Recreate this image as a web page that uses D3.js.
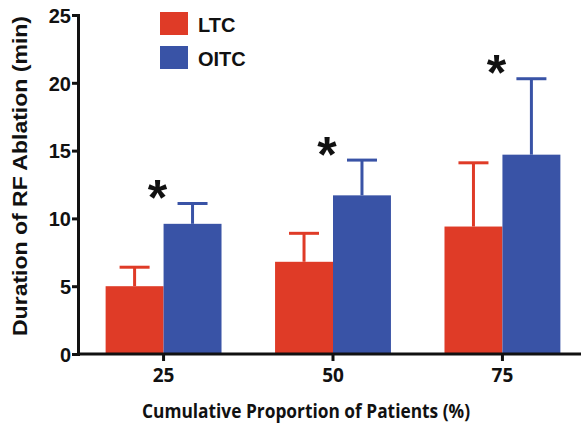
<!DOCTYPE html>
<html><head><meta charset="utf-8">
<script src="https://cdn.jsdelivr.net/npm/d3@7"></script>
<style>body{margin:0;background:#fff}svg{display:block}</style>
</head><body>
<script>
const categories = ["25", "50", "75"];
const seriesNames = ["LTC", "OITC"];
const ltcMeans = [5.0, 6.8, 9.4];
const ltcErrors = [1.4, 2.1, 4.7];
const oitcMeans = [9.6, 11.7, 14.7];
const oitcErrors = [1.5, 2.6, 5.6];
const significant = [true, true, true];
const yTicks = [0, 5, 10, 15, 20, 25];
const colors = ["#df3b27", "#3953a6"];

const W = 581, H = 424;
const svg = d3.select("body").append("svg").attr("width", W).attr("height", H);

const x = d3.scaleBand().domain(categories).range([78, 588]).paddingInner(0.316).paddingOuter(0.163);
const xs = d3.scaleBand().domain(seriesNames).range([0, x.bandwidth()]);
const y = d3.scaleLinear().domain([0, 25]).range([354, 15]);

const data = categories.map((c, i) => ({
  cat: c,
  vals: [
    {s: "LTC", m: ltcMeans[i], e: ltcErrors[i], c: colors[0]},
    {s: "OITC", m: oitcMeans[i], e: oitcErrors[i], c: colors[1]}
  ],
  sig: significant[i]
}));

const g = svg.selectAll("g.grp").data(data).join("g").attr("class", "grp")
  .attr("transform", d => `translate(${x(d.cat)},0)`);

// error bars (upper only)
g.selectAll("g.err").data(d => d.vals).join("g").attr("class", "err").each(function(d) {
  const cx = xs(d.s) + xs.bandwidth() / 2;
  const sel = d3.select(this);
  sel.append("line").attr("x1", cx).attr("x2", cx).attr("y1", y(d.m)).attr("y2", y(d.m + d.e))
    .attr("stroke", d.c).attr("stroke-width", 3);
  sel.append("line").attr("x1", cx - 15).attr("x2", cx + 15).attr("y1", y(d.m + d.e)).attr("y2", y(d.m + d.e))
    .attr("stroke", d.c).attr("stroke-width", 3);
});

g.selectAll("rect").data(d => d.vals).join("rect")
  .attr("x", d => xs(d.s)).attr("width", xs.bandwidth())
  .attr("y", d => y(d.m)).attr("height", d => y(0) - y(d.m))
  .attr("fill", d => d.c);

// asterisks
const aFs = 50;
g.filter(d => d.sig).append("text")
  .attr("x", x.bandwidth() / 2 - 6)
  .attr("y", d => y(d.vals[1].m + d.vals[1].e) - 17 + 0.57 * aFs)
  .attr("text-anchor", "middle")
  .attr("font-family", "Liberation Sans, Arial, sans-serif")
  .attr("font-weight", "bold").attr("font-size", aFs).attr("fill", "#111")
  .text("*");

// axes
const yAxis = svg.append("g").attr("transform", "translate(78,0)")
  .call(d3.axisLeft(y).tickValues(yTicks).tickSize(6).tickPadding(1).tickSizeOuter(6));
yAxis.selectAll("path, line").attr("stroke", "#111").attr("stroke-width", 3);
yAxis.selectAll("text").attr("font-family", "Liberation Sans, Arial, sans-serif")
  .attr("font-weight", "bold").attr("font-size", 20).attr("fill", "#111").attr("dy", "0.36em");

const xAxis = svg.append("g").attr("transform", "translate(0,354)")
  .call(d3.axisBottom(x).tickSize(7).tickPadding(8).tickSizeOuter(0));
xAxis.select("path").attr("d", "M78,0H590");
xAxis.selectAll("path, line").attr("stroke", "#111").attr("stroke-width", 3);
xAxis.selectAll("text").attr("font-family", "Open Sans, sans-serif")
  .attr("font-weight", "bold").attr("font-size", 19).attr("fill", "#111");

// titles
svg.append("text").attr("x", 306).attr("y", 418).attr("text-anchor", "middle")
  .attr("font-family", "Open Sans, sans-serif").attr("font-weight", "bold").attr("font-size", 20)
  .attr("textLength", 328).attr("lengthAdjust", "spacingAndGlyphs")
  .attr("fill", "#111").text("Cumulative Proportion of Patients (%)");

svg.append("text").attr("transform", "translate(27,176) rotate(-90)").attr("text-anchor", "middle")
  .attr("font-family", "Liberation Sans, Arial, sans-serif").attr("font-weight", "bold").attr("font-size", 20)
  .attr("textLength", 320).attr("lengthAdjust", "spacingAndGlyphs")
  .attr("fill", "#111").text("Duration of RF Ablation (min)");

// legend
const legY = [12, 46];
const leg = svg.selectAll("g.leg").data(seriesNames).join("g").attr("class", "leg");
leg.append("rect").attr("x", 160).attr("y", (d, i) => legY[i]).attr("width", 28).attr("height", 23)
  .attr("fill", (d, i) => colors[i]);
leg.append("text").attr("x", 198).attr("y", (d, i) => legY[i] + 20)
  .attr("font-family", "Liberation Sans, Arial, sans-serif").attr("font-weight", "bold").attr("font-size", 20)
  .attr("fill", "#111").text(d => d);
</script>
</body></html>
